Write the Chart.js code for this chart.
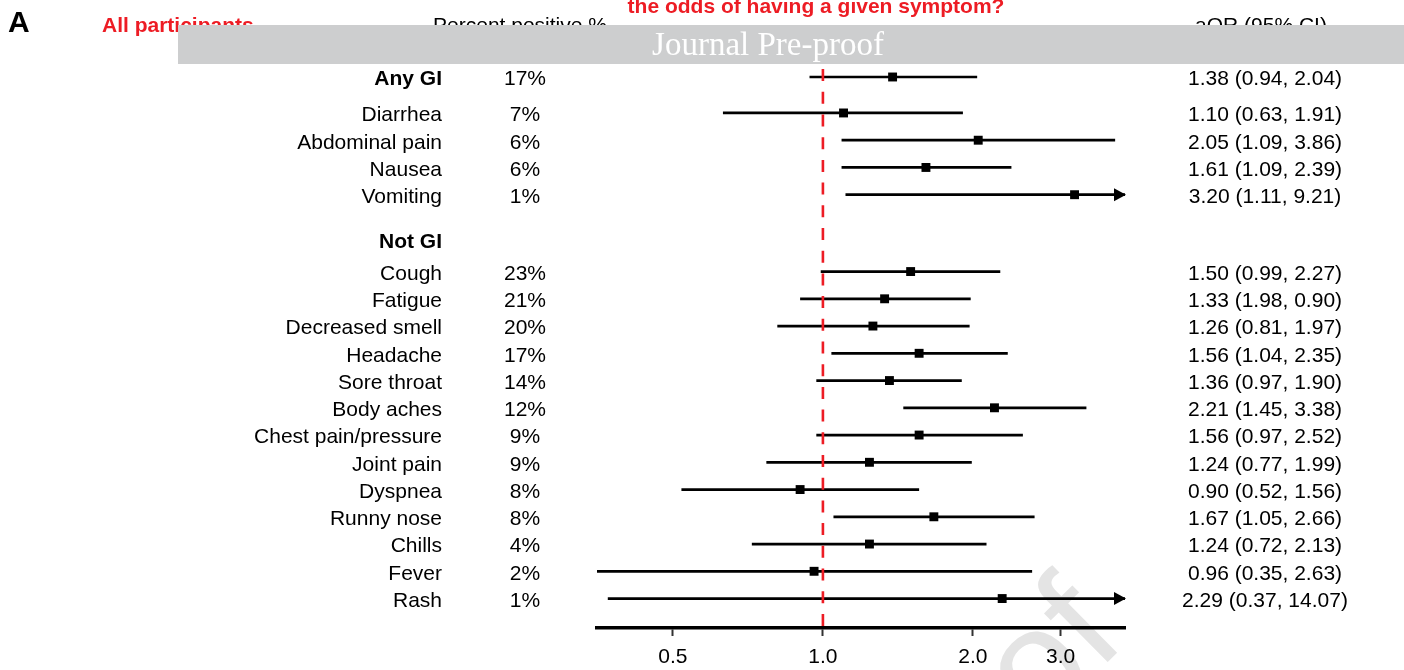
<!DOCTYPE html>
<html>
<head>
<meta charset="utf-8">
<script src="https://cdn.jsdelivr.net/npm/chart.js@4.4.1/dist/chart.umd.min.js"></script>
<style>
  html, body { margin: 0; padding: 0; background: #fff; }
  canvas { display: block; }
</style>
</head>
<body>
<canvas id="forest" width="1404" height="670"></canvas>
<script>
// ---- data ----
const symptoms = ['Any GI', 'Diarrhea', 'Abdominal pain', 'Nausea', 'Vomiting',
  'Cough', 'Fatigue', 'Decreased smell', 'Headache', 'Sore throat', 'Body aches',
  'Chest pain/pressure', 'Joint pain', 'Dyspnea', 'Runny nose', 'Chills', 'Fever', 'Rash'];
const percentPositive = [17, 7, 6, 6, 1, 23, 21, 20, 17, 14, 12, 9, 9, 8, 8, 4, 2, 1];
const aOR      = [1.38, 1.10, 2.05, 1.61, 3.20, 1.50, 1.33, 1.26, 1.56, 1.36, 2.21, 1.56, 1.24, 0.90, 1.67, 1.24, 0.96, 2.29];
const ciFirst  = [0.94, 0.63, 1.09, 1.09, 1.11, 0.99, 1.98, 0.81, 1.04, 0.97, 1.45, 0.97, 0.77, 0.52, 1.05, 0.72, 0.35, 0.37];
const ciSecond = [2.04, 1.91, 3.86, 2.39, 9.21, 2.27, 0.90, 1.97, 2.35, 1.90, 3.38, 2.52, 1.99, 1.56, 2.66, 2.13, 2.63, 14.07];
const xTicks = [0.5, 1.0, 2.0, 3.0];
const giRowCount = 5;          // 'Any GI' plus its four symptoms
const sectionLabel = 'Not GI';

// ---- layout (row units on the vertical scale) ----
const FONT = "'Liberation Sans', Arial, Helvetica, sans-serif";
const RED = '#ed1c24';
const Y_MIN = -0.697, Y_MAX = 20.221;
const X_MIN = 0.352, X_MAX = 4.04;
function rowPos(i) {
  if (i === 0) return 0;
  if (i < giRowCount) return 1.32 + (i - 1);
  return 7.14 + (i - giRowCount);
}
const sectionPos = 5.97;
const TEXT_DY = 2.5;

const fmt = v => v.toFixed(2);

// ---- datasets ----
const datasets = [];
// null line at aOR = 1
datasets.push({
  type: 'line',
  data: [{ x: 1, y: Y_MIN }, { x: 1, y: Y_MAX }],
  borderColor: RED, borderWidth: 2.6, borderDash: [12, 10.7], borderDashOffset: 11.6,
  pointRadius: 0, order: 0, clip: false
});
// confidence intervals
symptoms.forEach((s, i) => {
  const lo = Math.min(ciFirst[i], ciSecond[i]);
  const hi = Math.max(ciFirst[i], ciSecond[i]);
  datasets.push({
    type: 'line',
    data: [{ x: lo, y: rowPos(i) }, { x: hi, y: rowPos(i) }],
    borderColor: '#000', borderWidth: 2.7, borderCapStyle: 'butt',
    pointRadius: 0, order: 2
  });
});
// point estimates
datasets.push({
  type: 'scatter',
  data: symptoms.map((s, i) => ({ x: aOR[i], y: rowPos(i) })),
  pointStyle: 'rect', pointRadius: 6.3, backgroundColor: '#000', borderColor: '#000',
  borderWidth: 0, order: 1
});

// ---- text, arrows and overlays ----
const forestDecor = {
  id: 'forestDecor',
  beforeDraw(chart) {
    const ctx = chart.ctx;
    ctx.save();
    ctx.fillStyle = '#fff';
    ctx.fillRect(0, 0, chart.width, chart.height);
    // diagonal watermark
    ctx.translate(1128, 642);
    ctx.rotate(-0.78);
    ctx.font = `150px ${FONT}`;
    ctx.fillStyle = '#e4e4e4';
    ctx.textAlign = 'right';
    ctx.textBaseline = 'alphabetic';
    ctx.fillText('Journal Pre-proof', 0, 0);
    ctx.restore();
  },
  afterDatasetsDraw(chart) {
    const ctx = chart.ctx;
    const xs = chart.scales.x, ys = chart.scales.y;
    const right = chart.chartArea.right;
    ctx.save();
    ctx.fillStyle = '#000';
    symptoms.forEach((s, i) => {
      const hi = Math.max(ciFirst[i], ciSecond[i]);
      if (hi > xs.max) {
        const y = ys.getPixelForValue(rowPos(i));
        ctx.beginPath();
        ctx.moveTo(right + 1, y);
        ctx.lineTo(right - 11, y - 6.5);
        ctx.lineTo(right - 11, y + 6.5);
        ctx.closePath();
        ctx.fill();
      }
    });
    ctx.restore();
  },
  afterDraw(chart) {
    const ctx = chart.ctx;
    const ys = chart.scales.y;
    ctx.save();
    ctx.textBaseline = 'middle';
    ctx.fillStyle = '#000';
    symptoms.forEach((s, i) => {
      const y = ys.getPixelForValue(rowPos(i)) + TEXT_DY;
      ctx.font = (i === 0 ? 'bold ' : '') + `21px ${FONT}`;
      ctx.textAlign = 'right';
      ctx.fillText(s, 442, y);
      ctx.font = `21px ${FONT}`;
      ctx.textAlign = 'center';
      ctx.fillText(percentPositive[i] + '%', 525, y);
      ctx.fillText(`${fmt(aOR[i])} (${fmt(ciFirst[i])}, ${fmt(ciSecond[i])})`, 1265, y);
    });
    ctx.font = `bold 21px ${FONT}`;
    ctx.textAlign = 'right';
    ctx.fillText(sectionLabel, 442, ys.getPixelForValue(sectionPos) + TEXT_DY);

    // column headers and panel titles
    ctx.textBaseline = 'alphabetic';
    ctx.textAlign = 'left';
    ctx.font = `bold 30px ${FONT}`;
    ctx.fillText('A', 8, 31.5);
    ctx.fillStyle = RED;
    ctx.font = `bold 21px ${FONT}`;
    ctx.fillText('All participants', 102, 31.5);
    ctx.textAlign = 'center';
    ctx.fillText('the odds of having a given symptom?', 816, 13);
    ctx.fillStyle = '#000';
    ctx.font = `21px ${FONT}`;
    ctx.fillText('Percent positive %', 520, 32);
    ctx.fillText('aOR (95% CI)', 1261, 32);

    // banner
    ctx.fillStyle = '#cdcecf';
    ctx.fillRect(178, 25, 1404 - 178, 39);
    ctx.fillStyle = '#fff';
    ctx.font = "33px 'Liberation Serif', 'Times New Roman', serif";
    ctx.textBaseline = 'middle';
    ctx.fillText('Journal Pre-proof', 768, 46);
    ctx.restore();
  }
};

new Chart(document.getElementById('forest'), {
  type: 'scatter',
  data: { datasets },
  options: {
    responsive: false,
    animation: false,
    layout: { padding: { left: 597, right: 279, top: 58, bottom: 0 } },
    plugins: { legend: { display: false }, tooltip: { enabled: false } },
    scales: {
      x: {
        type: 'logarithmic',
        min: X_MIN, max: X_MAX,
        afterBuildTicks: s => { s.ticks = xTicks.map(v => ({ value: v })); },
        afterFit: s => { s.height = 42; },
        ticks: {
          callback: v => Number(v).toFixed(1),
          font: { family: FONT, size: 21 }, color: '#000',
          padding: 9, maxRotation: 0, autoSkip: false
        },
        grid: { drawOnChartArea: false, drawTicks: true, tickLength: 8, tickWidth: 2, tickColor: '#333' },
        border: { display: true, color: '#000', width: 3.5 }
      },
      y: { type: 'linear', reverse: true, min: Y_MIN, max: Y_MAX, display: false }
    }
  },
  plugins: [forestDecor]
});
</script>
</body>
</html>
